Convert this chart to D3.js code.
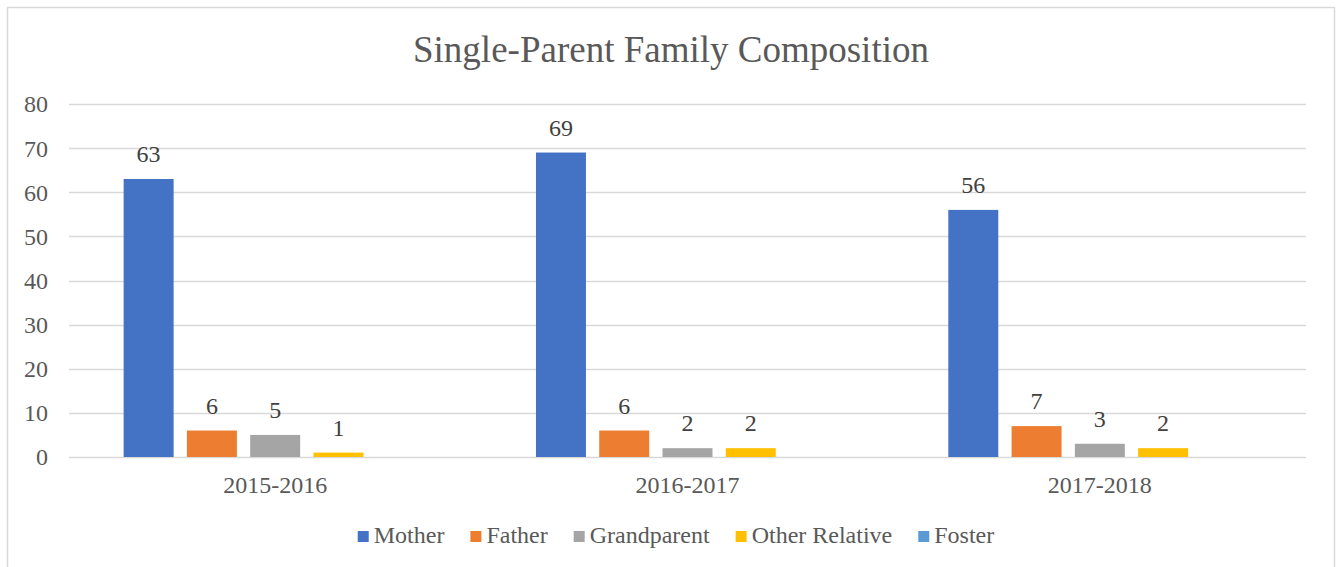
<!DOCTYPE html>
<html>
<head>
<meta charset="utf-8">
<script src="https://cdn.jsdelivr.net/npm/d3@7"></script>
<style>
  html, body { margin: 0; padding: 0; background: #fff; }
  svg { display: block; }
  text { font-family: "Liberation Serif", "Times New Roman", serif; }
</style>
</head>
<body>
<svg id="chart" width="1344" height="567"></svg>
<script>
const title = "Single-Parent Family Composition";
const categories = ["2015-2016", "2016-2017", "2017-2018"];
const seriesNames = ["Mother", "Father", "Grandparent", "Other Relative", "Foster"];
const seriesColors = ["#4472C4", "#ED7D31", "#A5A5A5", "#FFC000", "#5B9BD5"];
const mother = [63, 69, 56];
const father = [6, 6, 7];
const grandparent = [5, 2, 3];
const otherRelative = [1, 2, 2];
const foster = [0, 0, 0];
const yTicks = [0, 10, 20, 30, 40, 50, 60, 70, 80];

const seriesValues = [mother, father, grandparent, otherRelative, foster];

const svg = d3.select("#chart");
const W = 1344, H = 567;
const FS = 24;

// chart border
svg.append("rect")
  .attr("x", 7.5).attr("y", 7.5)
  .attr("width", 1327).attr("height", 575)
  .attr("fill", "#fff").attr("stroke", "#d9d9d9").attr("stroke-width", 1.5);

const plot = { left: 69, right: 1306, top: 104, bottom: 457 };

const y = d3.scaleLinear().domain([0, 80]).range([plot.bottom, plot.top]);
const x0 = d3.scaleBand().domain(categories).range([plot.left, plot.right])
  .paddingInner(0.265).paddingOuter(0.1325);
const x1 = d3.scaleBand().domain(seriesNames).range([0, x0.bandwidth()])
  .paddingInner(0.21).paddingOuter(0);
const color = d3.scaleOrdinal().domain(seriesNames).range(seriesColors);

// title
svg.append("text")
  .attr("x", W / 2 - 1).attr("y", 62)
  .attr("text-anchor", "middle")
  .attr("font-size", 37)
  .attr("fill", "#595959")
  .text(title);

// gridlines
svg.append("g").selectAll("line").data(yTicks).join("line")
  .attr("x1", plot.left).attr("x2", plot.right)
  .attr("y1", d => Math.round(y(d)) + 0.5).attr("y2", d => Math.round(y(d)) + 0.5)
  .attr("stroke", "#d9d9d9").attr("stroke-width", 1.5);

// y axis labels
const yAxis = d3.axisLeft(y).tickValues(yTicks).tickSize(0).tickPadding(0);
const yg = svg.append("g").attr("transform", `translate(48,0)`).call(yAxis);
yg.attr("font-family", null).attr("font-size", null);
yg.select(".domain").remove();
yg.selectAll("text")
  .attr("font-size", FS).attr("fill", "#595959").attr("dy", "0.33em");

// x axis labels
const xAxis = d3.axisBottom(x0).tickSize(0).tickPadding(0);
const xg = svg.append("g").attr("transform", `translate(0,${plot.bottom})`).call(xAxis);
xg.attr("font-family", null).attr("font-size", null);
xg.select(".domain").remove();
xg.selectAll("text")
  .attr("font-size", FS).attr("fill", "#595959").attr("dy", 0).attr("y", 36);

// bars
const groups = svg.append("g").selectAll("g").data(categories).join("g")
  .attr("transform", d => `translate(${x0(d)},0)`);

groups.selectAll("rect")
  .data((c, ci) => seriesNames.map((s, si) => ({ s, v: seriesValues[si][ci] })))
  .join("rect")
  .attr("x", d => x1(d.s))
  .attr("y", d => y(d.v))
  .attr("width", x1.bandwidth())
  .attr("height", d => y(0) - y(d.v))
  .attr("fill", d => color(d.s));

groups.selectAll("text.lbl")
  .data((c, ci) => seriesNames.map((s, si) => ({ s, v: seriesValues[si][ci] })).filter(d => d.v > 0))
  .join("text")
  .attr("class", "lbl")
  .attr("x", d => x1(d.s) + x1.bandwidth() / 2)
  .attr("y", d => y(d.v) - 17)
  .attr("text-anchor", "middle")
  .attr("font-size", FS)
  .attr("fill", "#404040")
  .text(d => d.v);

// legend
const items = seriesNames.map(n => {
  const t = svg.append("text").attr("font-size", FS).text(n);
  const w = t.node().getComputedTextLength();
  t.remove();
  return { n, w };
});
const swatch = 11, gapSw = 5, gapItem = 26;
const total = d3.sum(items, d => swatch + gapSw + d.w) + gapItem * (items.length - 1);
let lx = W / 2 - total / 2 + 4;
items.forEach(d => { d.x = lx; lx += swatch + gapSw + d.w + gapItem; });

const lg = svg.append("g").selectAll("g").data(items).join("g");
lg.append("rect").attr("x", d => d.x).attr("y", 531).attr("width", swatch).attr("height", swatch)
  .attr("fill", d => color(d.n));
lg.append("text").attr("x", d => d.x + swatch + gapSw).attr("y", 543)
  .attr("font-size", FS).attr("fill", "#595959").text(d => d.n);
</script>
</body>
</html>
